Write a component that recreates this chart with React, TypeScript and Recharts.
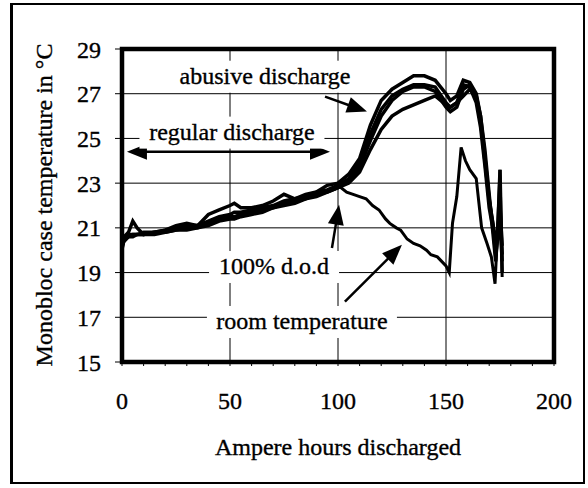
import React from "react"
import { LineChart, Line, XAxis, YAxis, CartesianGrid, ReferenceLine, ReferenceArea, ReferenceDot } from "recharts"

const serif = "Liberation Serif, Tinos, DejaVu Serif, serif"

// ampere hours at which the four monobloc cases were logged
const ampHours = [0, 1, 3, 5, 7, 10, 15, 20, 25, 30, 35, 40, 45, 50, 52, 55, 60, 65, 70, 75, 80, 85, 90, 95, 100, 105, 110, 115, 120, 125, 130, 135, 140, 145, 150, 152, 155, 158, 161, 164, 166, 168, 170, 172, 173, 174, 175, 176]

// case temperatures in °C
const caseA = [20.0, 20.6, 20.8, 21.3, 21.0, 20.7, 20.8, 20.9, 21.1, 21.2, 21.1, 21.6, 21.8, 22.0, 22.1, 21.9, 21.9, 22.0, 22.2, 22.5, 22.3, 22.5, 22.6, 22.9, 23.0, 23.4, 24.1, 25.6, 26.7, 27.2, 27.5, 27.8, 27.8, 27.6, 27.0, 26.7, 26.9, 27.6, 27.5, 27.0, 26.0, 24.5, 22.5, 20.5, 19.5, 21.0, 23.6, 19.0]
const caseB = [20.3, 20.6, 20.7, 20.7, 20.7, 20.8, 20.8, 20.9, 21.0, 21.1, 21.1, 21.3, 21.5, 21.6, 21.7, 21.7, 21.8, 21.9, 22.0, 22.2, 22.3, 22.4, 22.6, 22.7, 22.9, 23.2, 23.9, 25.2, 26.3, 26.9, 27.2, 27.4, 27.4, 27.3, 26.6, 26.4, 26.6, 27.4, 27.3, 26.6, 25.5, 23.8, 21.9, 20.8, 19.8, 20.6, 21.5, 19.5]
const caseC = [20.1, 20.5, 20.6, 20.7, 20.7, 20.7, 20.8, 20.8, 20.9, 21.0, 21.0, 21.2, 21.4, 21.5, 21.5, 21.6, 21.7, 21.8, 21.9, 22.1, 22.2, 22.3, 22.5, 22.6, 22.8, 23.1, 23.7, 24.9, 26.0, 26.7, 27.1, 27.3, 27.3, 27.1, 26.4, 26.2, 26.4, 27.2, 27.4, 26.8, 25.8, 24.0, 22.2, 21.0, 20.0, 20.8, 22.0, 20.2]
const caseD = [20.2, 20.4, 20.6, 20.6, 20.7, 20.7, 20.7, 20.8, 20.9, 20.9, 21.0, 21.1, 21.3, 21.4, 21.4, 21.5, 21.6, 21.7, 21.9, 22.0, 22.1, 22.3, 22.4, 22.6, 22.8, 23.0, 23.5, 24.5, 25.4, 26.0, 26.3, 26.5, 26.7, 26.9, 26.5, 26.4, 26.6, 26.9, 27.2, 26.9, 26.0, 24.2, 22.3, 21.0, 20.2, 21.0, 21.8, 19.8]

// room temperature, logged from the end of the regular discharge
const roomAh = [98, 100, 104, 107, 110, 113, 116, 119, 122, 124, 127, 129, 132, 135, 138, 141, 143, 146, 148, 150, 151.5, 153, 155, 157, 159, 161, 164, 166.5, 169, 171, 172.7, 173.5, 175, 176]
const roomTemp = [22.7, 22.9, 22.6, 22.5, 22.4, 22.3, 22.0, 21.8, 21.4, 21.2, 21.0, 20.9, 20.5, 20.3, 20.2, 20.0, 19.8, 19.7, 19.5, 19.3, 19.0, 21.2, 22.4, 24.6, 24.0, 23.6, 23.2, 21.0, 20.3, 19.7, 18.5, 20.1, 23.6, 18.8]

const xTicks = [0, 10, 20, 30, 40, 50, 60, 70, 80, 90, 100, 110, 120, 130, 140, 150, 160, 170, 180, 190, 200]
const yTicks = [15, 17, 19, 21, 23, 25, 27, 29]
const xGrid = [50, 100, 150]

const caseData = ampHours.map((ah, i) => ({ ah, a: caseA[i], b: caseB[i], c: caseC[i], d: caseD[i] }))
const roomData = roomAh.map((ah, i) => ({ ah, room: roomTemp[i] }))

// slightly stroked so the serif text reads as heavy as the lines
const textStyle = { fontFamily: serif, fontSize: 24, stroke: "#000", strokeWidth: 0.35 }

// white boxed text label
const Note = ({ cx, cy, text, w }: any) => (
  <g>
    <rect x={cx - w / 2} y={cy - 16} width={w} height={32} fill="#fff" />
    <text x={cx} y={cy} dy="0.3em" textAnchor="middle" style={textStyle} fill="#000">
      {text}
    </text>
  </g>
)

// straight arrow with a filled head at the end (and the start, if both)
const Arrow = ({ x1, y1, x2, y2, both }: any) => {
  const len = Math.hypot(x2 - x1, y2 - y1)
  const ux = (x2 - x1) / len
  const uy = (y2 - y1) / len
  const head = (tx: number, ty: number, sx: number, sy: number) => {
    const bx = tx - sx * 20
    const by = ty - sy * 20
    return `${tx},${ty} ${bx - sy * 8},${by + sx * 8} ${bx + sy * 8},${by - sx * 8}`
  }
  const sx = both ? x1 + ux * 16 : x1
  const sy = both ? y1 + uy * 16 : y1
  return (
    <g>
      <line x1={sx} y1={sy} x2={x2 - ux * 16} y2={y2 - uy * 16} stroke="#000" strokeWidth={2.5} />
      <polygon points={head(x2, y2, ux, uy)} fill="#000" />
      {both && <polygon points={head(x1, y1, -ux, -uy)} fill="#000" />}
    </g>
  )
}

export default function App() {
  return (
    <div style={{ position: "fixed", left: 0, top: 0, width: 588, height: 488, background: "#fff" }}>
      <div
        style={{
          position: "absolute",
          left: 10,
          top: 3,
          width: 570,
          height: 477,
          borderStyle: "solid",
          borderColor: "#000",
          borderWidth: "2px 2px 2px 3px",
        }}
      />
      <div style={{ position: "absolute", left: 0, top: 0 }}>
        <LineChart width={588} height={488} margin={{ top: 49, right: 34, bottom: 86, left: 62 }}>
          <CartesianGrid vertical={false} stroke="#000" strokeWidth={1} />
          <XAxis
            dataKey="ah"
            type="number"
            domain={[0, 200]}
            ticks={xTicks}
            interval={0}
            height={40}
            axisLine={false}
            tickSize={4}
            tickMargin={26}
            tickLine={{ stroke: "#000" }}
            tickFormatter={(v: number) => (v % 50 === 0 ? String(v) : "")}
            tick={{ fill: "#000", fontSize: 24, fontFamily: serif, style: textStyle }}
          />
          <YAxis
            type="number"
            domain={[15, 29]}
            ticks={yTicks}
            interval={0}
            width={60}
            axisLine={false}
            tickSize={7}
            tickMargin={14}
            tickLine={{ stroke: "#000" }}
            tick={{ fill: "#000", fontSize: 24, fontFamily: serif, style: textStyle }}
          />
          {xGrid.map((v) => (
            <ReferenceLine key={v} x={v} stroke="#000" strokeWidth={1} />
          ))}
          <ReferenceArea x1={0} x2={200} y1={15} y2={29} fill="none" fillOpacity={0} stroke="#000" strokeWidth={4.5} />
          <ReferenceDot x={66.2} y={27.76} r={0} shape={(p: any) => <Note cx={p.cx} cy={p.cy} w={194} text="abusive discharge" />} />
          <ReferenceDot x={50.9} y={25.26} r={0} shape={(p: any) => <Note cx={p.cx} cy={p.cy} w={185} text="regular discharge" />} />
          <ReferenceDot x={70.4} y={19.25} r={0} shape={(p: any) => <Note cx={p.cx} cy={p.cy} w={130} text="100% d.o.d" />} />
          <ReferenceDot x={83.3} y={16.79} r={0} shape={(p: any) => <Note cx={p.cx} cy={p.cy} w={190} text="room temperature" />} />
          <ReferenceLine segment={[{ x: 2.3, y: 24.4 }, { x: 96.3, y: 24.4 }]} shape={(p: any) => <Arrow {...p} both />} />
          <ReferenceLine segment={[{ x: 94.0, y: 26.87 }, { x: 113.4, y: 26.2 }]} shape={(p: any) => <Arrow {...p} />} />
          <ReferenceLine segment={[{ x: 97.2, y: 20.1 }, { x: 100.5, y: 22.03 }]} shape={(p: any) => <Arrow {...p} />} />
          <ReferenceLine segment={[{ x: 103.2, y: 17.7 }, { x: 129.6, y: 20.24 }]} shape={(p: any) => <Arrow {...p} />} />
          <Line data={roomData} dataKey="room" stroke="#000" strokeWidth={3} dot={false} isAnimationActive={false} />
          <Line data={caseData} dataKey="d" stroke="#000" strokeWidth={3.5} dot={false} isAnimationActive={false} />
          <Line data={caseData} dataKey="c" stroke="#000" strokeWidth={3.5} dot={false} isAnimationActive={false} />
          <Line data={caseData} dataKey="b" stroke="#000" strokeWidth={3.5} dot={false} isAnimationActive={false} />
          <Line data={caseData} dataKey="a" stroke="#000" strokeWidth={3.5} dot={false} isAnimationActive={false} />
        </LineChart>
      </div>
      <svg width={588} height={488} style={{ position: "absolute", left: 0, top: 0, pointerEvents: "none" }}>
        <text x={44} y={205} transform="rotate(-90 44 205)" textAnchor="middle" dominantBaseline="central" style={textStyle} fill="#000">
          Monobloc case temperature in °C
        </text>
        <text x={338} y={447} textAnchor="middle" dominantBaseline="central" style={textStyle} fill="#000">
          Ampere hours discharged
        </text>
      </svg>
    </div>
  )
}
